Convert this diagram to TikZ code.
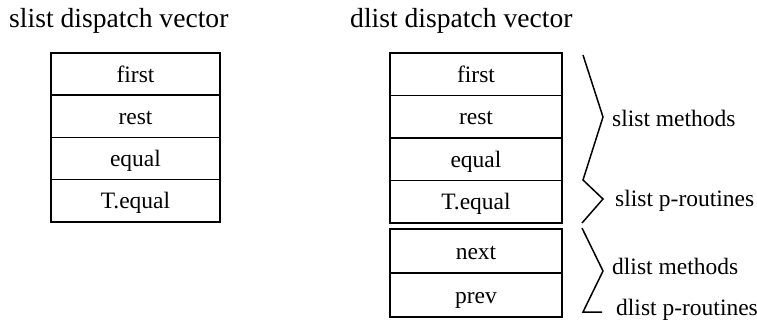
\documentclass[tikz,border=0pt]{standalone}
\usepackage{fontspec}
\setmainfont{Liberation Serif}
\begin{document}
\begin{tikzpicture}[x=1pt,y=-1pt,
  cell/.style={draw,line width=1.5pt,inner sep=0pt,
    font=\fontsize{23.5}{26}\selectfont,text height=18pt,text depth=2pt},
  lcell/.style={cell,minimum width=169pt,minimum height=42.25pt},
  rcell/.style={cell,minimum width=172pt,minimum height=42.5pt},
  dcell/.style={cell,minimum width=172pt,minimum height=44pt},
  title/.style={anchor=base west,inner sep=0pt,font=\fontsize{27.6}{30}\selectfont},
  grouplabel/.style={anchor=base west,inner sep=0pt,font=\fontsize{23.5}{26}\selectfont},
  brace/.style={line width=1.5pt,line join=miter}]
\useasboundingbox (0,0) rectangle (757,323);

% titles
\node[title] (ts) at (9,28) {slist dispatch vector};
\node[title] (td) at (350,28) {dlist dispatch vector};

% slist dispatch vector
\node[lcell] (s1) at (135.5,74.125) {first};
\node[lcell] (s2) at (135.5,116.375) {rest};
\node[lcell] (s3) at (135.5,158.625) {equal};
\node[lcell] (s4) at (135.5,200.875) {T.equal};

% dlist dispatch vector: inherited slist part
\node[rcell] (d1) at (476,74.25) {first};
\node[rcell] (d2) at (476,116.75) {rest};
\node[rcell] (d3) at (476,159.25) {equal};
\node[rcell] (d4) at (476,201.75) {T.equal};
% dlist extension
\node[dcell] (d5) at (476,251) {next};
\node[dcell] (d6) at (476,295) {prev};

% braces
\coordinate (b0) at (583,55);
\coordinate (b1) at (603,117);
\coordinate (b2) at (583,180);
\coordinate (b3) at (603,199);
\coordinate (b4) at (582,223);
\coordinate (c0) at (582,228);
\coordinate (c1) at (603,271);
\coordinate (c2) at (583,312);
\coordinate (c3) at (602,312);
\draw[brace] (b0) -- (b1) -- (b2) -- (b3) -- (b4);
\draw[brace] (c0) -- (c1) -- (c2) -- (c3);

% group labels
\node[grouplabel] (l1) at (612,127) {slist methods};
\node[grouplabel] (l2) at (615,207) {slist p-routines};
\node[grouplabel] (l3) at (612,274) {dlist methods};
\node[grouplabel] (l4) at (616,315) {dlist p-routines};
\end{tikzpicture}
\end{document}
